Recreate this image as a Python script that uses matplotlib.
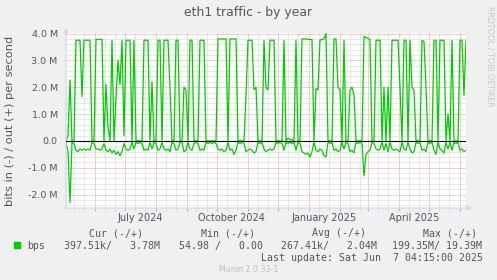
import matplotlib
matplotlib.use('Agg')
import matplotlib.pyplot as plt
import matplotlib.dates as mdates
from matplotlib.ticker import MultipleLocator, FuncFormatter
from datetime import datetime, timedelta

# time span of the munin "year" graph (400 days, one sample per 2 days here)
start = datetime(2024, 5, 3, 4, 15)
end = datetime(2025, 6, 7, 4, 15)
step_days = 2

# out (+) in Mbit/s
out_mbps = [
    0, 0.2, 2.27, 0, 0, 3.75, 3.75, 3.75, 1.65, 3.75,
    3.75, 3.75, 3.75, 0, 0, 3.78, 3.78, 3.78, 3.78, 0,
    2.1, 0.5, 0, 3.75, 0, 1.6, 3.0, 2.1, 3.75, 0.2,
    3.75, 3.75, 3.75, 0, 3.75, 0, 0, 0, 0, 3.75,
    3.75, 3.75, 0, 2.2, 0, 0, 3.75, 3.75, 0, 3.75,
    3.75, 3.75, 2.0, 0, 0, 3.75, 3.75, 0, 0, 2.0,
    1.9, 0, 3.75, 3.75, 0, 0, 0, 3.75, 3.75, 3.75,
    0, 0, 0, 0, 0, 0, 3.8, 3.8, 3.8, 3.8,
    3.8, 0, 3.8, 3.8, 3.8, 3.8, 0, 0, 0, 0,
    1.65, 3.75, 3.75, 3.75, 1.9, 2.0, 0, 0, 0, 3.75,
    2.0, 1.9, 3.75, 3.75, 3.75, 0, 0, 0, 0, 3.75,
    0, 0.1, 0.05, 0.05, 0, 3.75, 0, 0, 3.8, 3.8,
    3.8, 3.78, 3.78, 3.78, 0, 1.95, 1.9, 3.75, 3.78, 3.8,
    4.0, 0, 0, 0, 3.8, 3.8, 2.0, 1.9, 0, 3.75,
    0, 0, 1.9, 2.0, 1.7, 0, 0, 0, 0, 3.9,
    3.85, 3.82, 3.78, 0, 0, 3.75, 3.75, 3.75, 0, 2.0,
    0, 2.0, 0, 3.75, 3.75, 3.75, 3.75, 2.0, 0, 3.75,
    3.75, 0, 3.75, 2.0, 1.9, 0, 0, 0, 3.75, 3.7,
    2.0, 0, 0, 0, 3.75, 3.75, 0, 3.75, 3.75, 3.75,
    0, 1.0, 0, 3.75, 0, 0, 0, 3.75, 3.75, 1.7,
    3.75, 3.78,
]

# in (-) in Mbit/s, drawn below zero
in_mbps = [
    0.05, 0.4, 2.3, 0.05, 0.1, 0.35, 0.4, 0.3, 0.35, 0.3,
    0.35, 0.3, 0.35, 0.05, 0.1, 0.3, 0.3, 0.35, 0.3, 0.1,
    0.35, 0.4, 0.3, 0.45, 0.35, 0.5, 0.4, 0.55, 0.4, 0.1,
    0.3, 0.35, 0.3, 0.05, 0.3, 0.05, 0.1, 0.05, 0.1, 0.35,
    0.3, 0.35, 0.05, 0.3, 0.05, 0.1, 0.35, 0.3, 0.05, 0.3,
    0.35, 0.3, 0.4, 0.05, 0.1, 0.35, 0.3, 0.05, 0.05, 0.4,
    0.35, 0.05, 0.3, 0.35, 0.1, 0.05, 0.1, 0.35, 0.3, 0.35,
    0.05, 0.1, 0.05, 0.1, 0.05, 0.1, 0.3, 0.35, 0.3, 0.4,
    0.35, 0.05, 0.35, 0.3, 0.5, 0.35, 0.05, 0.1, 0.05, 0.1,
    0.4, 0.35, 0.3, 0.35, 0.45, 0.4, 0.05, 0.1, 0.05, 0.3,
    0.4, 0.35, 0.3, 0.35, 0.3, 0.05, 0.1, 0.05, 0.1, 0.35,
    0.05, 0.1, 0.05, 0.1, 0.05, 0.35, 0.05, 0.1, 0.4, 0.45,
    0.5, 0.45, 0.6, 0.4, 0.05, 0.35, 0.4, 0.3, 0.35, 0.55,
    0.6, 0.05, 0.1, 0.05, 0.35, 0.3, 0.4, 0.35, 0.05, 0.3,
    0.05, 0.1, 0.4, 0.35, 0.45, 0.05, 0.1, 0.05, 0.1, 1.3,
    0.5, 0.4, 0.35, 0.05, 0.1, 0.3, 0.35, 0.3, 0.05, 0.35,
    0.1, 0.4, 0.05, 0.3, 0.35, 0.3, 0.35, 0.4, 0.05, 0.3,
    0.35, 0.05, 0.3, 0.45, 0.4, 0.05, 0.1, 0.05, 0.35, 0.3,
    0.4, 0.05, 0.1, 0.05, 0.35, 0.5, 0.05, 0.3, 0.35, 0.45,
    0.05, 0.3, 0.05, 0.35, 0.05, 0.1, 0.05, 0.35, 0.3, 0.4,
    0.35, 0.4,
]

month_labels = ['July 2024', 'October 2024', 'January 2025', 'April 2025']
label_dates = [datetime(2024, 7, 16), datetime(2024, 10, 16),
               datetime(2025, 1, 16), datetime(2025, 4, 16)]

dates = [start + timedelta(days=step_days * i) for i in range(len(out_mbps))]
out_bps = [v * 1e6 for v in out_mbps]
in_bps = [-v * 1e6 for v in in_mbps]

BACK = '#F0F0F0'
FONT = '#555555'
AXIS = '#CFD6F8'
GREEN = '#00CC00'

fig = plt.figure(figsize=(4.97, 2.80), dpi=100, facecolor=BACK)
ax = fig.add_axes([66 / 497, 72 / 280, 400 / 497, 175 / 280])
ax.set_facecolor('white')

ax.plot(dates, out_bps, color=GREEN, lw=0.9, zorder=3)
ax.plot(dates, in_bps, color=GREEN, lw=0.9, zorder=3)
ax.axhline(0, color='black', lw=0.8, zorder=4)

ax.set_xlim(start, end)
ax.set_ylim(-2.5e6, 4.02e6)

# grid: red dotted majors, grey dotted minors
ax.xaxis.set_major_locator(mdates.MonthLocator())
ax.xaxis.set_minor_locator(mdates.DayLocator(bymonthday=[11, 21]))
ax.yaxis.set_major_locator(MultipleLocator(1e6))
ax.yaxis.set_minor_locator(MultipleLocator(0.2e6))
ax.grid(which='minor', color='#D4D4D4', lw=0.72, ls=(0, (1, 1)), zorder=1)
ax.grid(which='major', color='#F29A9A', lw=0.72, ls=(0, (1, 1)), zorder=2)
ax.xaxis.set_major_formatter(FuncFormatter(lambda v, p: ''))
ax.yaxis.set_major_formatter(FuncFormatter(
    lambda v, p: '0.0' if abs(v) < 1 else '%.1f M' % (v / 1e6)))
ax.tick_params(axis='x', which='major', length=2, color='#F29A9A')
ax.tick_params(axis='x', which='minor', length=2, color='#D4D4D4')
ax.tick_params(axis='y', which='both', length=0, pad=6,
               labelsize=6.8, labelcolor=FONT)

for s in ax.spines.values():
    s.set_visible(False)

# axis lines with arrows
ax.annotate('', xy=(0, 1.03), xytext=(0, -0.01), xycoords='axes fraction',
            arrowprops=dict(arrowstyle='-|>', color=AXIS, lw=0.9,
                            mutation_scale=7, shrinkA=0, shrinkB=0))
ax.annotate('', xy=(1.015, 0), xytext=(-0.01, 0), xycoords='axes fraction',
            arrowprops=dict(arrowstyle='-|>', color=AXIS, lw=0.9,
                            mutation_scale=7, shrinkA=0, shrinkB=0))

for lab, d in zip(month_labels, label_dates):
    ax.text(d, -0.03, lab, transform=ax.get_xaxis_transform(),
            ha='center', va='top', fontsize=7, color=FONT)

fig.text(0.5, 0.955, 'eth1 traffic - by year', ha='center', va='center',
         fontsize=8.9, color=FONT)
fig.text(0.021, 0.57, 'bits in (-) / out (+) per second', rotation=90,
         ha='center', va='center', fontsize=8.2, color=FONT)
fig.text(0.985, 0.8, 'RRDTOOL / TOBI OETIKER', rotation=270,
         ha='center', va='center', fontsize=5.7, color='#C8C8C8')

# legend block
mono = 'DejaVu Sans Mono'
fig.patches.append(plt.Rectangle((14 / 497, 1 - 248 / 280), 6 / 497, 6 / 280,
                                 transform=fig.transFigure, color=GREEN))
fig.text(27 / 497, 1 - 246 / 280, 'bps', family=mono, fontsize=7.1, color=FONT,
         va='center')
heads = ['Cur (-/+)', 'Min (-/+)', 'Avg (-/+)', 'Max (-/+)']
head_x = [116, 228, 339, 450]
vals = ['397.51k/   3.78M', '54.98 /   0.00', '267.41k/   2.04M', '199.35M/ 19.39M']
val_x = [112, 221, 329, 437]
for h, x in zip(heads, head_x):
    fig.text(x / 497, 1 - 233 / 280, h, family=mono, fontsize=7.1, color=FONT,
             ha='center', va='center')
for v, x in zip(vals, val_x):
    fig.text(x / 497, 1 - 246 / 280, v, family=mono, fontsize=7.1, color=FONT,
             ha='center', va='center')
fig.text(483 / 497, 1 - 258 / 280, 'Last update: Sat Jun  7 04:15:00 2025',
         family=mono, fontsize=7.1, color=FONT, ha='right', va='center')
fig.text(249 / 497, 1 - 269 / 280, 'Munin 2.0.33-1', fontsize=5.7,
         color='#C0C0C0', ha='center', va='center')

fig.savefig('out.png', dpi=100, facecolor=BACK)
